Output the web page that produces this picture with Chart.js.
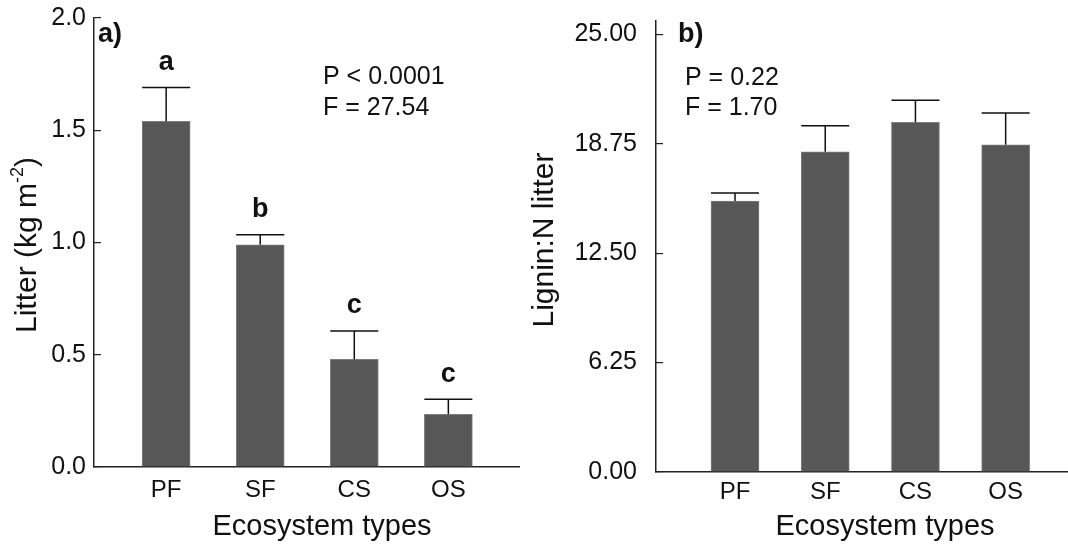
<!DOCTYPE html>
<html>
<head>
<meta charset="utf-8">
<script src="https://cdn.jsdelivr.net/npm/chart.js@4.4.0/dist/chart.umd.min.js"></script>
<style>
  body { margin: 0; background: #fff; width: 1068px; height: 548px; position: relative; overflow: hidden; }
  canvas { position: absolute; top: 0; }
  #chartA { left: 0; }
  #chartB { left: 510px; }
</style>
</head>
<body>
<canvas id="chartA" width="534" height="548"></canvas>
<canvas id="chartB" width="558" height="548"></canvas>
<script>
// data
const categories = ['PF', 'SF', 'CS', 'OS'];

const litterMeans = [1.54, 0.99, 0.48, 0.235];
const litterErrors = [0.15, 0.045, 0.126, 0.067];
const litterLetters = ['a', 'b', 'c', 'c'];
const litterTicks = [0, 0.5, 1.0, 1.5, 2.0];

const ligninMeans = [15.48, 18.29, 19.97, 18.69];
const ligninErrors = [0.46, 1.48, 1.27, 1.82];
const ligninTicks = [0, 6.25, 12.5, 18.75, 25];

const FONT = '"Liberation Sans", Arial, Helvetica, sans-serif';
const INK = '#111';
Chart.defaults.font.family = FONT;
Chart.defaults.color = INK;

// error bars, letters, panel labels and axis titles
function makeOverlay(cfg) {
    return {
        id: 'overlay',
        afterDatasetsDraw(chart) {
            const { ctx, scales: { x, y } } = chart;
            ctx.save();
            ctx.strokeStyle = INK;
            ctx.lineWidth = 1.5;
            cfg.means.forEach((m, i) => {
                const px = x.getPixelForValue(i);
                const base = y.getPixelForValue(m);
                const top = y.getPixelForValue(m + cfg.errors[i]);
                ctx.beginPath();
                ctx.moveTo(px, base);
                ctx.lineTo(px, top);
                ctx.moveTo(px - 24, top);
                ctx.lineTo(px + 24, top);
                ctx.stroke();
                if (cfg.letters) {
                    ctx.fillStyle = INK;
                    ctx.font = 'bold 27px ' + FONT;
                    ctx.textAlign = 'center';
                    ctx.textBaseline = 'middle';
                    ctx.fillText(cfg.letters[i], px, top - 25);
                }
            });

            // panel label
            ctx.fillStyle = INK;
            ctx.font = 'bold 27px ' + FONT;
            ctx.textAlign = 'left';
            ctx.textBaseline = 'middle';
            ctx.fillText(cfg.panel[0], cfg.panel[1], cfg.panel[2]);

            // stats
            ctx.font = '25px ' + FONT;
            cfg.stats.forEach(s => ctx.fillText(s[0], s[1], s[2]));

            // x title
            ctx.font = '29px ' + FONT;
            ctx.textAlign = 'center';
            ctx.fillText('Ecosystem types', cfg.xTitle[0], cfg.xTitle[1]);

            // y title (with optional superscript)
            const t = cfg.yTitle;
            ctx.textAlign = 'left';
            ctx.translate(t.x, t.y);
            ctx.rotate(-Math.PI / 2);
            const big = '30px ' + FONT, small = '18px ' + FONT;
            ctx.font = big;
            const w1 = ctx.measureText(t.main).width;
            const w3 = t.after ? ctx.measureText(t.after).width : 0;
            ctx.font = small;
            const w2 = t.sup ? ctx.measureText(t.sup).width : 0;
            let cx = -(w1 + w2 + w3) / 2;
            ctx.font = big;
            ctx.fillText(t.main, cx, 0);
            cx += w1;
            if (t.sup) {
                ctx.font = small;
                ctx.fillText(t.sup, cx, -10);
                cx += w2;
                ctx.font = big;
                ctx.fillText(t.after, cx, 0);
            }
            ctx.restore();
        }
    };
}

function buildChart(canvasId, p) {
    return new Chart(document.getElementById(canvasId), {
        type: 'bar',
        data: {
            datasets: [{
                data: p.means.map((v, i) => ({ x: i, y: v })),
                backgroundColor: '#575757',
                borderColor: '#7d7d7d',
                borderWidth: 1,
                barThickness: 48
            }]
        },
        options: {
            responsive: false,
            animation: false,
            layout: { padding: p.padding },
            plugins: { legend: { display: false }, tooltip: { enabled: false } },
            scales: {
                x: {
                    type: 'linear',
                    offset: false,
                    min: p.xMin,
                    max: p.xMax,
                    afterBuildTicks: s => { s.ticks = categories.map((c, i) => ({ value: i })); },
                    afterFit: s => {
                        s.height = p.xHeight;
                        s.paddingLeft = 0;
                        s.paddingRight = 0;
                    },
                    ticks: {
                        callback: v => categories[v],
                        font: { size: 24 },
                        color: INK,
                        padding: p.xPad,
                        autoSkip: false,
                        maxRotation: 0
                    },
                    grid: { display: true, offset: false, drawOnChartArea: false, drawTicks: false },
                    border: { display: true, color: '#222', width: 1.5 }
                },
                y: {
                    min: 0,
                    max: p.yMax,
                    afterBuildTicks: s => { s.ticks = p.ticks.map(v => ({ value: v })); },
                    afterFit: s => {
                        s.width = p.yWidth;
                        s.paddingTop = 0;
                        s.paddingBottom = 0;
                    },
                    ticks: {
                        callback: v => v.toFixed(p.decimals),
                        font: { size: 25 },
                        color: INK,
                        padding: p.yPad
                    },
                    grid: { drawOnChartArea: false, drawTicks: true, tickLength: -7, color: '#222', lineWidth: 1.2 },
                    border: { display: true, color: '#222', width: 1.5 }
                }
            }
        },
        plugins: [makeOverlay(p.overlay)]
    });
}

buildChart('chartA', {
    means: litterMeans,
    ticks: litterTicks,
    decimals: 1,
    yMax: 2.0,
    xMin: -0.767,
    xMax: 3.751,
    padding: { top: 18, right: 15, left: 0, bottom: 0 },
    yWidth: 94,
    xHeight: 81,
    yPad: 15,
    xPad: 9,
    overlay: {
        means: litterMeans,
        errors: litterErrors,
        letters: litterLetters,
        panel: ['a)', 98, 35],
        stats: [['P < 0.0001', 323, 77], ['F = 27.54', 323, 108]],
        xTitle: [322, 527],
        yTitle: { x: 28, y: 245, main: 'Litter (kg m', sup: '-2', after: ')' }
    }
});

buildChart('chartB', {
    means: ligninMeans,
    ticks: ligninTicks,
    decimals: 2,
    yMax: 25.76,
    xMin: -0.876,
    xMax: 3.68,
    padding: { top: 21, right: 1, left: 0, bottom: 0 },
    yWidth: 146,
    xHeight: 76,
    yPad: 26,
    xPad: 6,
    overlay: {
        means: ligninMeans,
        errors: ligninErrors,
        letters: null,
        panel: ['b)', 168, 35],
        stats: [['P = 0.22', 175, 78], ['F = 1.70', 175, 108]],
        xTitle: [375, 527],
        yTitle: { x: 35, y: 240, main: 'Lignin:N litter' }
    }
});
</script>
</body>
</html>
